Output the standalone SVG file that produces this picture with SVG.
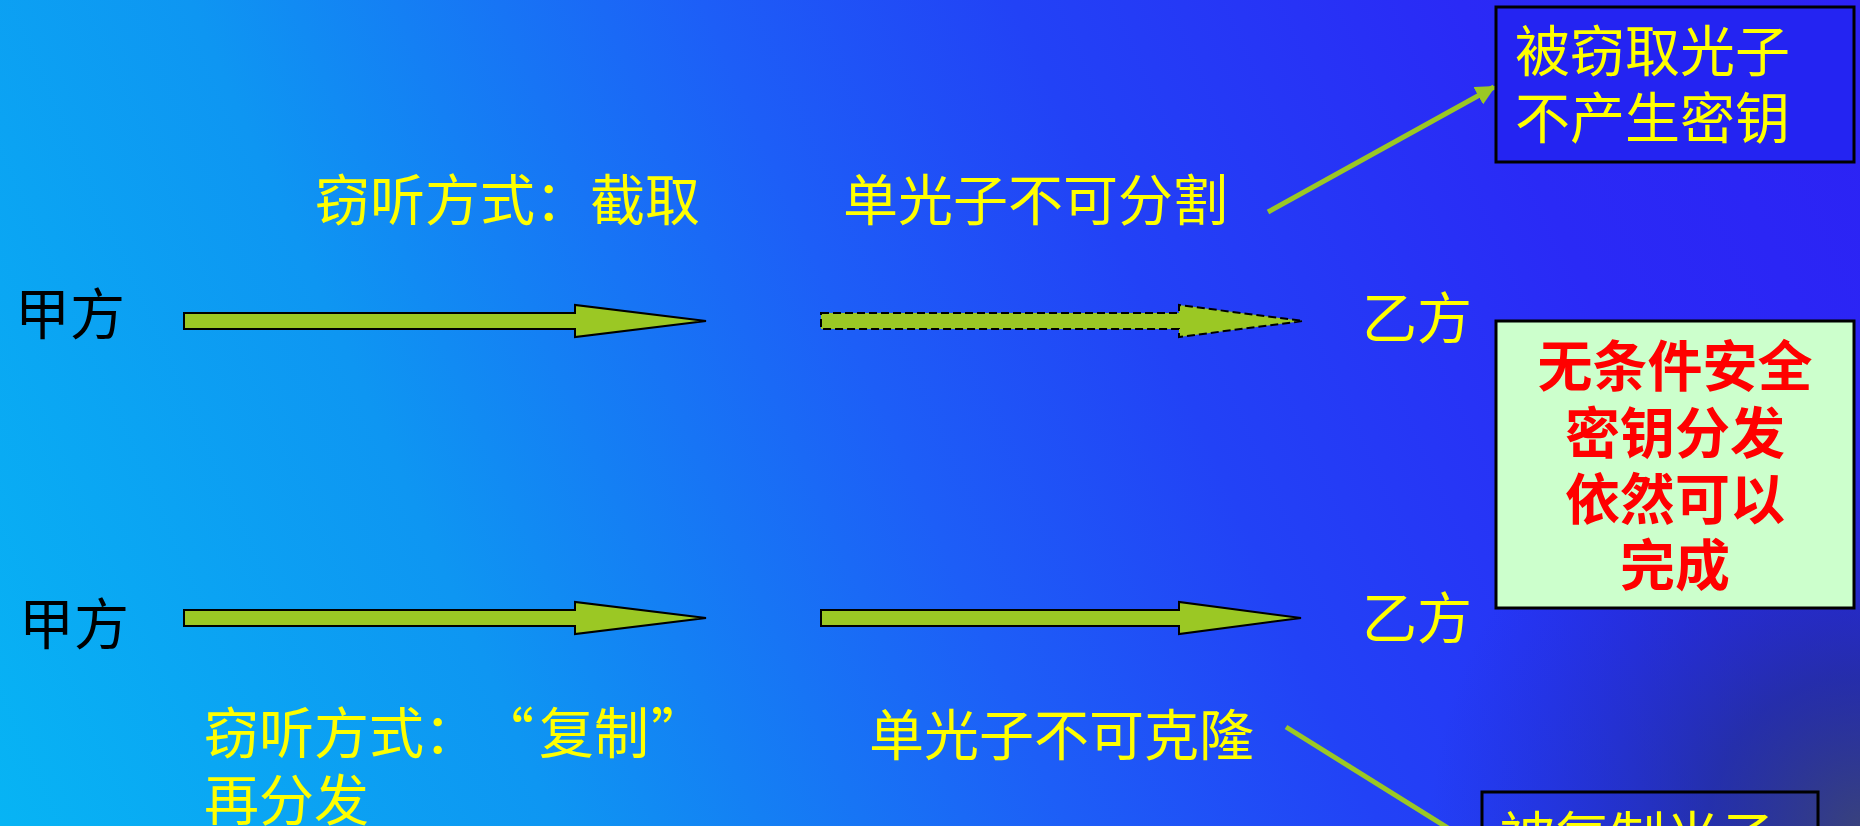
<svg xmlns="http://www.w3.org/2000/svg" width="1860" height="826" viewBox="0 0 1860 826">
<defs>
<linearGradient id="bg" gradientUnits="userSpaceOnUse" x1="0" y1="826" x2="1860" y2="0">
<stop offset="0" stop-color="#07B4F4"/>
<stop offset="0.25" stop-color="#0E96F2"/>
<stop offset="0.48" stop-color="#1D5EF7"/>
<stop offset="0.62" stop-color="#2242F6"/>
<stop offset="0.82" stop-color="#2A2AF6"/>
<stop offset="1" stop-color="#2C22F4"/>
</linearGradient>
<radialGradient id="dark" gradientUnits="userSpaceOnUse" cx="1860" cy="826" r="430">
<stop offset="0" stop-color="#3A4470" stop-opacity="0.9"/>
<stop offset="0.35" stop-color="#22307A" stop-opacity="0.6"/>
<stop offset="1" stop-color="#1A2AB0" stop-opacity="0"/>
</radialGradient>
<marker id="tip" viewBox="0 0 10 10" refX="9" refY="5" markerWidth="4" markerHeight="4" orient="auto" markerUnits="strokeWidth">
<path d="M0,0 L10,5 L0,10 z" fill="#9BC824"/>
</marker>
<style>
.t{font-family:"Noto Sans CJK SC","Noto Sans",sans-serif;font-size:55px}
.y{fill:#FFFF00}
.k{fill:#000000}
.r{fill:#FF0000;font-weight:bold;text-anchor:middle}
.arr{fill:#9BC824;stroke:#000;stroke-width:2;stroke-linejoin:miter}
.dash{stroke-dasharray:8 4}
.ln{stroke:#9BC824;stroke-width:5;fill:none}
.box{stroke:#000;stroke-width:3}
</style>
</defs>
<rect x="0" y="0" width="1860" height="826" fill="url(#bg)"/>
<rect x="0" y="0" width="1860" height="826" fill="url(#dark)"/>

<g id="connectors">
<path class="arr" d="M184,313 L575,313 L575,305 L706,321 L575,337 L575,329 L184,329 z"/>
<path class="arr dash" d="M821,313 L1179,313 L1179,305 L1303,321 L1179,337 L1179,329 L821,329 z"/>
<path class="arr" d="M184,610 L575,610 L575,602 L706,618 L575,634 L575,626 L184,626 z"/>
<path class="arr" d="M821,610 L1179,610 L1179,602 L1301,618 L1179,634 L1179,626 L821,626 z"/>
<line class="ln" x1="1268" y1="212" x2="1494" y2="87" marker-end="url(#tip)"/>
<line class="ln" x1="1286" y1="727" x2="1480" y2="848" marker-end="url(#tip)"/>
</g>

<g id="alice-top"><text class="t k" x="15" y="334">甲方</text></g>
<g id="bob-top"><text class="t y" x="1362" y="338">乙方</text></g>
<g id="alice-bottom"><text class="t k" x="19" y="644">甲方</text></g>
<g id="bob-bottom"><text class="t y" x="1362" y="638">乙方</text></g>

<g id="label-intercept"><text class="t y" x="315" y="220">窃听方式：截取</text></g>
<g id="label-indivisible"><text class="t y" x="843" y="220">单光子不可分割</text></g>
<g id="label-copy"><text class="t y" x="204" y="753">窃听方式：<tspan x="479">“</tspan><tspan x="539">复制</tspan><tspan x="651">”</tspan></text><text class="t y" x="204" y="820">再分发</text></g>
<g id="label-noclone"><text class="t y" x="869" y="755">单光子不可克隆</text></g>

<g id="box-stolen">
<rect class="box" x="1496" y="7" width="358" height="155" fill="#2424F2"/>
<text class="t y" x="1515" y="71">被窃取光子</text>
<text class="t y" x="1515" y="138">不产生密钥</text>
</g>
<g id="box-secure">
<rect class="box" x="1496" y="321" width="358" height="287" fill="#CCFFCC"/>
<text class="t r" x="1675" y="386">无条件安全</text>
<text class="t r" x="1675" y="453">密钥分发</text>
<text class="t r" x="1675" y="519">依然可以</text>
<text class="t r" x="1675" y="585">完成</text>
</g>
<g id="box-copied">
<rect class="box" x="1482" y="792" width="336" height="120" fill="none"/>
<text class="t y" x="1500" y="857">被复制光子</text>
</g>
</svg>
